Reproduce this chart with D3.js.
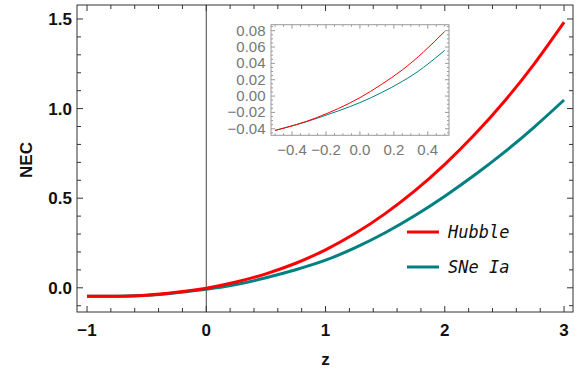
<!DOCTYPE html>
<html><head><meta charset="utf-8">
<script src="https://cdn.jsdelivr.net/npm/d3@7"></script>
<style>body{margin:0;background:#fff}svg{display:block}</style>
</head><body><svg id="c" width="584" height="375"></svg>
<script>
const zValues = [-1,-0.75,-0.5,-0.25,0,0.25,0.5,0.75,1,1.25,1.5,1.75,2,2.25,2.5,2.75,3];
const hubble  = [-0.047,-0.047,-0.041,-0.025,-0.002,0.032,0.078,0.137,0.212,0.304,0.414,0.542,0.689,0.855,1.041,1.25,1.482];
const sneIa   = [-0.047,-0.047,-0.042,-0.027,-0.008,0.018,0.056,0.101,0.154,0.224,0.307,0.403,0.511,0.629,0.757,0.897,1.048];
const insetZ  = [-0.5,-0.375,-0.25,-0.125,0,0.125,0.25,0.375,0.5];
const insetHubble = [-0.042,-0.035,-0.026,-0.015,-0.002,0.014,0.032,0.054,0.079];
const insetSNe    = [-0.042,-0.035,-0.027,-0.018,-0.008,0.004,0.018,0.035,0.056];
const xTicks = [-1,0,1,2,3];
const yTicks = [0,0.5,1,1.5];
const insetXTicks = [-0.4,-0.2,0,0.2,0.4];
const insetYTicks = [-0.04,-0.02,0,0.02,0.04,0.06,0.08];
const seriesNames = ["Hubble","SNe Ia"];
const colors = ["#ff0000","#008080"];

const svg = d3.select("#c");
const L=77,R=573,T=5,B=312;
const x = d3.scaleLinear().domain([-1.084,3.075]).range([L,R]);
const y = d3.scaleLinear().domain([-0.135,1.578]).range([B,T]);

function frameTicks(g, xs, ys, xMaj, xMin, yMaj, yMin, l, r, t, b, majLen, minLen, col){
  const seg = (x1,y1,x2,y2)=>g.append("line").attr("x1",x1).attr("y1",y1).attr("x2",x2).attr("y2",y2).attr("stroke",col).attr("stroke-width",1);
  xMin.forEach(v=>{const p=xs(v);seg(p,b,p,b-minLen);seg(p,t,p,t+minLen);});
  xMaj.forEach(v=>{const p=xs(v);seg(p,b,p,b-majLen);seg(p,t,p,t+majLen);});
  yMin.forEach(v=>{const p=ys(v);seg(l,p,l+minLen,p);seg(r,p,r-minLen,p);});
  yMaj.forEach(v=>{const p=ys(v);seg(l,p,l+majLen,p);seg(r,p,r-majLen,p);});
}
const rng=(a,b,s)=>d3.range(Math.round(a/s),Math.round(b/s)+1).map(i=>+(i*s).toFixed(6));

// main frame
const g = svg.append("g");
g.append("line").attr("x1",x(0)).attr("x2",x(0)).attr("y1",T).attr("y2",B).attr("stroke","#444").attr("stroke-width",1);
const xMinor = rng(-1,3,0.2).filter(v=>Math.abs(v-Math.round(v))>1e-6);
const yMinor = rng(-0.1,1.5,0.1).filter(v=>Math.abs(v*2-Math.round(v*2))>1e-6);
frameTicks(g,x,y,xTicks,xMinor,yTicks,yMinor,L,R,T,B,6,4,"#333");
g.append("rect").attr("x",L).attr("y",T).attr("width",R-L).attr("height",B-T).attr("fill","none").attr("stroke","#333").attr("stroke-width",1);

const lbl = {"font-family":"Liberation Sans, Arial, sans-serif","font-weight":"bold","font-size":"17px","fill":"#111"};
function applyAttrs(s,a){Object.entries(a).forEach(([k,v])=>s.attr(k,v));return s;}
const fmtX = d=>d<0?"\u2212"+Math.abs(d):String(d);
xTicks.forEach(v=>applyAttrs(g.append("text"),lbl).attr("x",x(v)).attr("y",336).attr("text-anchor","middle").text(fmtX(v)));
yTicks.forEach(v=>applyAttrs(g.append("text"),lbl).attr("x",72).attr("y",y(v)+6).attr("text-anchor","end").text(v.toFixed(1)));
applyAttrs(g.append("text"),lbl).attr("x",x(1)).attr("y",365).attr("text-anchor","middle").text("z");
applyAttrs(g.append("text"),lbl).attr("transform","translate(32,160) rotate(-90)").attr("text-anchor","middle").text("NEC");

const line = d3.line().x(d=>x(d[0])).y(d=>y(d[1])).curve(d3.curveNatural);
[sneIa,hubble].forEach((s,i)=>{
  const idx = i===0?1:0;
  g.append("path").datum(zValues.map((z,j)=>[z,s[j]])).attr("d",line).attr("fill","none").attr("stroke",colors[idx]).attr("stroke-width",3);
});

// legend
seriesNames.forEach((n,i)=>{
  const ly = 232 + i*35;
  g.append("line").attr("x1",407).attr("x2",439).attr("y1",ly).attr("y2",ly).attr("stroke",colors[i]).attr("stroke-width",3);
  g.append("text").attr("x",448).attr("y",ly+6).attr("font-family","DejaVu Sans Mono, monospace").attr("font-style","italic").attr("font-size","17px").attr("fill","#111").text(n);
});

// inset
const iL=271,iR=449,iT=24.7,iB=135.3;
const xi = d3.scaleLinear().domain([-0.524,0.525]).range([iL,iR]);
const yi = d3.scaleLinear().domain([-0.048,0.0873]).range([iB,iT]);
const gi = svg.append("g");
gi.append("rect").attr("x",iL).attr("y",iT).attr("width",iR-iL).attr("height",iB-iT).attr("fill","#fff");
const ixMinor = rng(-0.5,0.5,0.05).filter(v=>Math.abs(v*5-Math.round(v*5))>1e-6);
const iyMinor = rng(-0.045,0.085,0.005).filter(v=>Math.abs(v*50-Math.round(v*50))>1e-6);
frameTicks(gi,xi,yi,insetXTicks,ixMinor,insetYTicks,iyMinor,iL,iR,iT,iB,4,2,"#999");
gi.append("rect").attr("x",iL).attr("y",iT).attr("width",iR-iL).attr("height",iB-iT).attr("fill","none").attr("stroke","#999").attr("stroke-width",1);
const il = d3.line().x(d=>xi(d[0])).y(d=>yi(d[1])).curve(d3.curveNatural);
[insetSNe,insetHubble].forEach((s,i)=>{
  gi.append("path").datum(insetZ.map((z,j)=>[z,s[j]])).attr("d",il).attr("fill","none").attr("stroke",i===0?colors[1]:colors[0]).attr("stroke-width",1);
});
const ilbl = {"font-family":"Liberation Sans, Arial, sans-serif","font-size":"15px","fill":"#777"};
const fmtI = (d,p)=>(d<0?"\u2212":"")+Math.abs(d).toFixed(p);
insetXTicks.forEach(v=>applyAttrs(gi.append("text"),ilbl).attr("x",xi(v)).attr("y",155).attr("text-anchor","middle").text(fmtI(v,1)));
insetYTicks.forEach(v=>applyAttrs(gi.append("text"),ilbl).attr("x",265.5).attr("y",yi(v)+5).attr("text-anchor","end").text(fmtI(v,2)));
</script></body></html>
